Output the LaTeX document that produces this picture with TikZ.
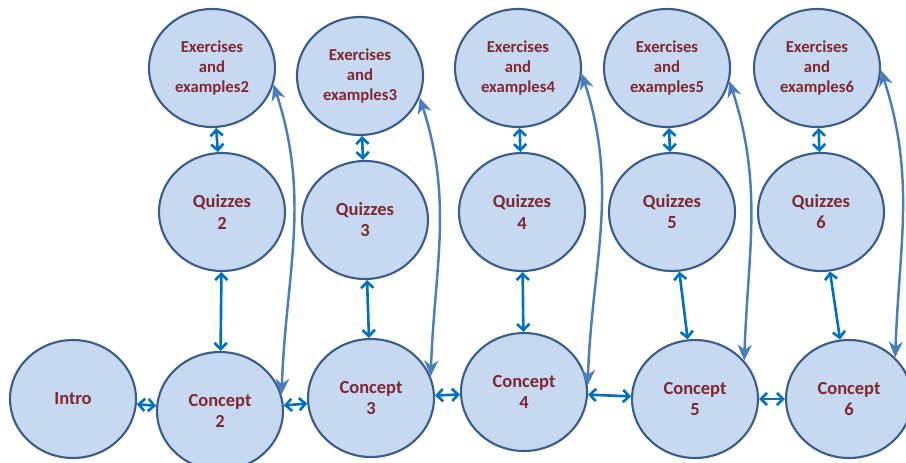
\documentclass[tikz,border=0pt]{standalone}
\usepackage{fontspec}
\setmainfont{Carlito}
\usepackage{tikz}
\usetikzlibrary{arrows.meta}
\usetikzlibrary{shapes.geometric}
\definecolor{bubblefill}{RGB}{198,217,241}
\definecolor{bubbleline}{RGB}{56,93,138}
\definecolor{labelred}{RGB}{128,40,48}
\definecolor{linkblue}{RGB}{0,112,192}
\definecolor{arcblue}{RGB}{74,126,187}
\tikzstyle{bubble} = [ellipse, draw=bubbleline, fill=bubblefill, line width=1.2pt, minimum width=2.52cm, minimum height=2.36cm, inner sep=0pt, align=center, text=labelred, font=\fontsize{10.5}{12}\selectfont\bfseries]
\tikzstyle{smalltext} = [font=\fontsize{9.5}{11.2}\selectfont\bfseries]
\tikzstyle{twoway} = [{Straight Barb[length=3.5pt,width=7pt]}-{Straight Barb[length=3.5pt,width=7pt]}, draw=linkblue, line width=1.5pt]
\tikzstyle{backarc} = [{Stealth[length=9pt,width=8pt]}-{Stealth[length=9pt,width=8pt]}, draw=arcblue, line width=1.4pt]

\begin{document}
\begin{tikzpicture}[x=0.02cm,y=-0.02cm]

	\useasboundingbox (0,0) rectangle (906,463);
	\clip (0,0) rectangle (906,463);

	\node[bubble] (intro) at (73,399) {Intro};

	% one column per concept: exercises, quizzes, concept
	\foreach \i/\ex/\ey/\qx/\qy/\cx/\cy in {2/212/68/222/212/220/411, 3/360/76/365/220/371/398, 4/518/68/522/212/524/392, 5/667/68/672/212/695/399, 6/817/68/821/212/849/399}
	{
		\node[bubble,smalltext] (e\i) at (\ex,\ey) {Exercises\\and\\examples\i};
		\node[bubble] (q\i) at (\qx,\qy) {Quizzes\\\i};
		\node[bubble] (c\i) at (\cx,\cy) {Concept\\\i};
		\draw[twoway] (e\i) -- (q\i);
		\draw[twoway] (q\i) -- (c\i);
	}

	\draw[twoway] (intro) -- (c2);
	\draw[twoway] (c2) -- (c3);
	\draw[twoway] (c3) -- (c4);
	\draw[twoway] (c4) -- (c5);
	\draw[twoway] (c5) -- (c6);

	\foreach \i/\a/\b in {2/-15/15, 3/-20/20, 4/-5/6, 5/-12/38, 6/-2/42}
		\draw[backarc] (e\i.\a) to[out=-72,in=88] (c\i.\b);

\end{tikzpicture}
\end{document}
